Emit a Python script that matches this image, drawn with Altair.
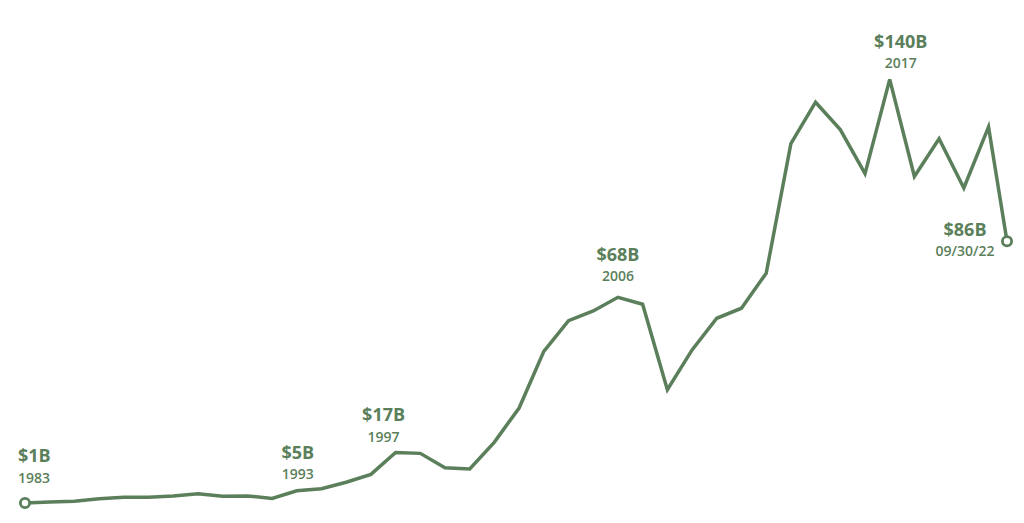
import altair as alt
import pandas as pd

GREEN = "#5b7f5b"
FONT = "Open Sans"

# Year-end values (billions), 12/31/1982 .. 12/31/2021, then 09/30/2022
dates = [f"{y}-12-31" for y in range(1982, 2022)] + ["2022-09-30"]
values = [
    1.0, 1.3, 1.6, 2.4, 2.9, 2.9, 3.3, 4.0, 3.2, 3.3,
    2.5, 5.0, 5.7, 7.8, 10.4, 17.6, 17.3, 12.6, 12.2, 21.0,
    32.2, 50.8, 60.9, 64.1, 68.6, 66.3, 38.2, 51.3, 61.7, 65.0,
    76.5, 119.1, 132.7, 123.7, 109.2, 140.2, 108.3, 120.7, 104.5, 124.6,
    87.0,
]

ann_dates = ["1982-12-31", "1993-12-31", "1997-12-31", "2006-12-31", "2017-12-31", "2022-09-30"]
ann_amounts = ["$1B", "$5B", "$17B", "$68B", "$140B", "$86B"]
ann_years = ["1983", "1993", "1997", "2006", "2017", "09/30/22"]

df = pd.DataFrame({"date": dates, "value": values})
lookup = dict(zip(dates, values))
ann = pd.DataFrame({
    "date": ann_dates,
    "value": [lookup[d] for d in ann_dates],
    "amount": ann_amounts,
    "year": ann_years,
})
ends = df.iloc[[0, len(df) - 1]]

x = alt.X(
    "date:T",
    axis=None,
    scale=alt.Scale(
        domain=[alt.DateTime(year=1982, month=12, date=31),
                alt.DateTime(year=2022, month=9, date=30)],
        range=[17, 999],
    ),
)
y = alt.Y(
    "value:Q",
    axis=None,
    scale=alt.Scale(domain=[0, 140], range=[498, 72], nice=False, zero=False),
)

line = alt.Chart(df).mark_line(color=GREEN, strokeWidth=3.5).encode(x=x, y=y)

points = alt.Chart(ends).mark_point(
    shape="circle", filled=True, fill="white", stroke=GREEN,
    strokeWidth=2.8, size=85, opacity=1,
).encode(x=x, y=y)

# (dx, dy amount, dy year, align) for each annotation
offsets = [
    (-7, -41, -20, "left"),
    (1, -32, -12, "center"),
    (-12, -31, -10, "center"),
    (0, -36, -16, "center"),
    (11, -31, -11, "center"),
    (-42, -5, 15, "center"),
]

layers = [line, points]
for i, (dx, dya, dyy, al) in enumerate(offsets):
    row = ann.iloc[[i]]
    layers.append(
        alt.Chart(row).mark_text(
            font=FONT, fontSize=18, fontWeight="bold", color=GREEN,
            align=al, baseline="alphabetic", dx=dx, dy=dya,
        ).encode(x=x, y=y, text="amount:N")
    )
    layers.append(
        alt.Chart(row).mark_text(
            font=FONT, fontSize=14, fontWeight=600, color=GREEN,
            align=al, baseline="alphabetic", dx=dx, dy=dyy,
        ).encode(x=x, y=y, text="year:N")
    )

chart = alt.layer(*layers).properties(
    width=1008, height=515, padding=0,
    autosize=alt.AutoSizeParams(type="none"),
    background="white",
).configure_view(stroke=None)

chart.save("out.html", embed_options={"renderer": "svg", "actions": False})
